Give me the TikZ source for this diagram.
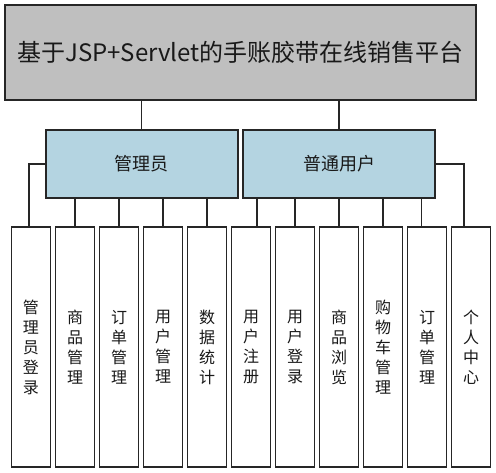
\documentclass[tikz,border=0pt]{standalone}
\usepackage{fontspec}
\setmainfont{Noto Sans CJK SC}
\usetikzlibrary{positioning}

\begin{document}
\begin{tikzpicture}[x=1pt,y=-1pt,line width=1.3pt,draw=black!85,
	box/.style={draw=black!85,line width=1.6pt,outer sep=0pt,inner sep=0pt,text=black!90},
	title node/.style={box,fill=lightgray,minimum width=471pt,minimum height=95pt,font=\fontsize{24}{28}\selectfont},
	role node/.style={box,fill=cyan!30!lightgray!70!white,minimum width=192pt,minimum height=68pt,font=\fontsize{18}{22}\selectfont},
	func node/.style={box,fill=white,minimum width=38.7pt,minimum height=240pt,align=center,font=\fontsize{16}{20}\selectfont}]
	
	\useasboundingbox (0,0) rectangle (496,473);
	
	\node[title node] (sys) at (240.5,52.5) {基于JSP+Servlet的手账胶带在线销售平台};
	\node[role node] (admin) at (141.7,164) {管理员};
	\node[role node] (user) at (339,164) {普通用户};
	
	\node[func node] (f1) at (31,347) {管\\理\\员\\登\\录};
	\node[func node] (f2) [right=5.3pt of f1] {商\\品\\管\\理};
	\node[func node] (f3) [right=5.3pt of f2] {订\\单\\管\\理};
	\node[func node] (f4) [right=5.3pt of f3] {用\\户\\管\\理};
	\node[func node] (f5) [right=5.3pt of f4] {数\\据\\统\\计};
	\node[func node] (f6) [right=5.3pt of f5] {用\\户\\注\\册};
	\node[func node] (f7) [right=5.3pt of f6] {用\\户\\登\\录};
	\node[func node] (f8) [right=5.3pt of f7] {商\\品\\浏\\览};
	\node[func node] (f9) [right=5.3pt of f8] {购\\物\\车\\管\\理};
	\node[func node] (f10) [right=5.3pt of f9] {订\\单\\管\\理};
	\node[func node] (f11) [right=5.3pt of f10] {个\\人\\中\\心};
	
	% system to roles
	\draw (admin.north) -- (admin.north |- sys.south);
	\draw (user.north) -- (user.north |- sys.south);
	
	% admin functions
	\draw (admin.west) -| ([xshift=-2pt]f1.north);
	\draw (f2.north) -- (f2.north |- admin.south);
	\draw (f3.north) -- (f3.north |- admin.south);
	\draw (f4.north) -- (f4.north |- admin.south);
	\draw (f5.north) -- (f5.north |- admin.south);
	
	% user functions
	\draw ([xshift=6pt]f6.north) -- ([xshift=6pt]f6.north |- user.south);
	\draw (f7.north) -- (f7.north |- user.south);
	\draw (f8.north) -- (f8.north |- user.south);
	\draw (f9.north) -- (f9.north |- user.south);
	\draw ([xshift=-5.3pt]f10.north) -- ([xshift=-5.3pt]f10.north |- user.south);
	\draw (user.east) -| ([xshift=-7pt]f11.north);
\end{tikzpicture}
\end{document}
